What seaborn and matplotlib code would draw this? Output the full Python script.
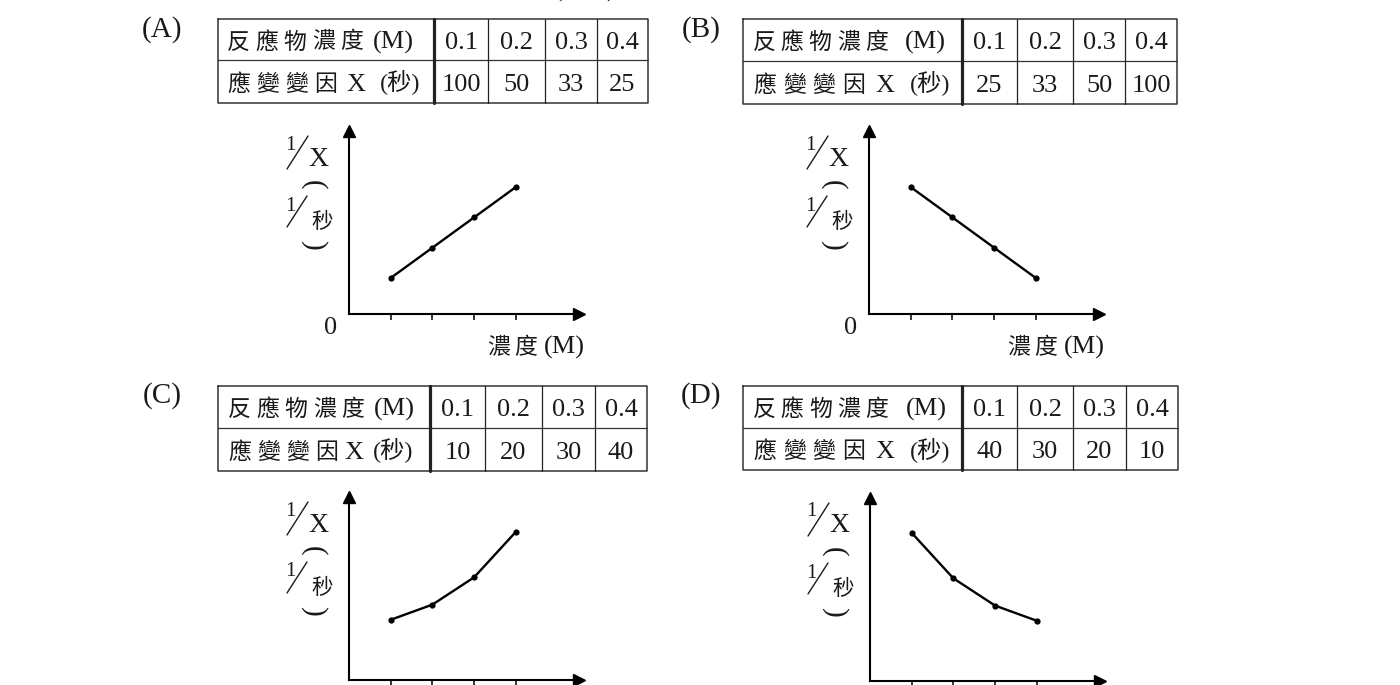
import numpy as np
import pandas as pd
import seaborn as sns
import matplotlib.pyplot as plt

W, H = 1400, 685

# data
conc = [0.1, 0.2, 0.3, 0.4]
conc_labels = ["0.1", "0.2", "0.3", "0.4"]
x_a = ["100", "50", "33", "25"]
x_b = ["25", "33", "50", "100"]
x_c = ["10", "20", "30", "40"]
x_d = ["40", "30", "20", "10"]
# plotted 1/X curves (arbitrary units)
curve_a = [1.0, 2.0, 3.0, 4.0]
curve_b = [4.0, 3.0, 2.0, 1.0]
curve_c = [1.8, 2.3, 3.2, 4.7]
curve_d = [4.7, 3.2, 2.3, 1.8]
panel_names = ["(A)", "(B)", "(C)", "(D)"]
head1 = ["反應物濃度(M)", "反應物濃度 (M)", "反應物濃度(M)", "反應物濃度 (M)"]
head2 = ["應變變因X (秒)", "應變變因X (秒)", "應變變因X(秒)", "應變變因X (秒)"]
xlabel = "濃度(M)"

sns.set_theme(style="white")
SERIF = "Liberation Serif"
CJK = "Noto Sans CJK TC"
plt.rcParams["font.family"] = [SERIF, CJK]
INK = "#1a1a1a"

fig = plt.figure(figsize=(14, 6.85), dpi=100)
ov = fig.add_axes([0, 0, 1, 1])
ov.set_xlim(0, W)
ov.set_ylim(H, 0)
ov.axis("off")

WEIGHTS = {"(": 0.45, ")": 0.45, "M": 1.0, "X": 0.85, " ": 0.3}


def is_cjk(ch):
    return ord(ch) > 0x2E80


def tokenize(text):
    # single CJK chars, bracket groups like (M) / (秒), and latin runs
    toks, i = [], 0
    while i < len(text):
        ch = text[i]
        if ch == "(":
            j = text.index(")", i)
            toks.append(text[i:j + 1])
            i = j + 1
        elif is_cjk(ch):
            toks.append(ch)
            i += 1
        else:
            j = i
            while j < len(text) and not is_cjk(text[j]) and text[j] != "(":
                j += 1
            toks.append(text[i:j])
            i = j
    return toks


def spread(text, xl, xr, y):
    toks = tokenize(text)
    w = [sum(WEIGHTS.get(c, 1.0) for c in t) for t in toks]
    unit = (xr - xl) / sum(w)
    x = xl
    for t, wi in zip(toks, w):
        if t.strip():
            if len(t) == 1 and is_cjk(t):
                ov.text(x + wi * unit / 2, y, t, ha="center", va="baseline",
                        fontsize=16.5, family=CJK, color=INK)
            else:
                mixed = any(is_cjk(c) for c in t)
                ov.text(x + wi * unit / 2, y, t.strip(), ha="center",
                        va="baseline", fontsize=17.5 if mixed else 19,
                        family=[SERIF, CJK], color=INK)
        x += wi * unit


def draw_table(cols, rows, h1, h2, vals, span1, span2):
    x0, x1 = cols[0], cols[-1]
    y0, y2 = rows[0], rows[-1]
    ov.plot([x0, x1, x1, x0, x0], [y0, y0, y2, y2, y0], color="#333", lw=1.1)
    ov.plot([x0, x1], [rows[1], rows[1]], color="#333", lw=0.9)
    for i, cx in enumerate(cols[1:-1]):
        ov.plot([cx, cx], [y0, y2], color="#222", lw=2.3 if i == 0 else 0.9)
    r1 = (rows[0] + rows[1]) / 2 + 9
    r2 = (rows[1] + rows[2]) / 2 + 9
    spread(h1, span1[0], span1[1], r1)
    spread(h2, span2[0], span2[1], r2)
    for i in range(4):
        cx = (cols[i + 1] + cols[i + 2]) / 2
        ov.text(cx, r1, conc_labels[i], ha="center", va="baseline", fontsize=19,
                family=SERIF, color=INK)
        ov.text(cx, r2, vals[i], ha="center", va="baseline", fontsize=19,
                family=SERIF, color=INK)


AX_W, AX_H = 230, 183
PX_X, PX_Y, OFF = 417.0, 30.3, 5.7


def draw_plot(ox, oy, vals, lower):
    ax = fig.add_axes([ox / W, (H - oy) / H, AX_W / W, AX_H / H])
    ax.set_facecolor("none")
    df = pd.DataFrame({"conc": conc, "inv": vals})
    sns.lineplot(data=df, x="conc", y="inv", ax=ax, color="black", lw=1.7,
                 marker="o", ms=4.5, mec="black", mew=0)
    ax.set_xlim(0, AX_W / PX_X)
    ax.set_ylim(-OFF / PX_Y, (AX_H - OFF) / PX_Y)
    sns.despine(ax=ax)
    for s in ("left", "bottom"):
        ax.spines[s].set_linewidth(1.5)
        ax.spines[s].set_color("black")
    ax.plot(1, 0, ">", color="black", ms=9, transform=ax.transAxes, clip_on=False)
    ax.plot(0, 1, "^", color="black", ms=9, transform=ax.transAxes, clip_on=False)
    ax.set_xticks(conc)
    ax.set_xticklabels([])
    ax.set_yticks([])
    ax.tick_params(axis="x", bottom=True, direction="out", length=4, width=1.1,
                   color="black")
    ax.set_xlabel("")
    ax.set_ylabel("")

    # vertical 1/X (1/秒) label
    t = oy - 189
    ov.text(ox - 59, t + 20, "1", fontsize=15, ha="center", va="center",
            family=SERIF, color=INK)
    ov.plot([ox - 62, ox - 41], [t + 44, t + 11], color=INK, lw=1.0)
    ov.text(ox - 31, t + 34, "X", fontsize=20, ha="center", va="center",
            family=SERIF, color=INK)
    ov.text(ox - 36, t + 60, "(", fontsize=21, rotation=-90, ha="center",
            va="center", family=SERIF, color=INK)
    ov.text(ox - 59, t + 81, "1", fontsize=15, ha="center", va="center",
            family=SERIF, color=INK)
    ov.plot([ox - 62, ox - 42], [t + 102, t + 71], color=INK, lw=1.0)
    ov.text(ox - 27, t + 97, "秒", fontsize=15.5, ha="center", va="center",
            family=CJK, color=INK)
    ov.text(ox - 36, t + 121, ")", fontsize=21, rotation=-90, ha="center",
            va="center", family=SERIF, color=INK)

    # the lower sketches are cut by the frame before their axis labels
    if not lower:
        ov.text(ox - 18, oy + 14, "0", fontsize=19, ha="center", va="center",
                family=SERIF, color=INK)
        spread(xlabel, ox + 136, ox + 241, oy + 40)
    return ax


tables = [
    ([218, 434, 488, 545, 597, 648], [19, 60, 103], x_a, (224, 420), (224, 428)),
    ([743, 962, 1017, 1073, 1125, 1177], [19, 61, 104], x_b, (750, 952), (750, 958)),
    ([218, 430, 485, 542, 595, 647], [386, 428, 471], x_c, (225, 421), (225, 421)),
    ([743, 962, 1017, 1073, 1126, 1178], [386, 428, 470], x_d, (750, 953), (750, 958)),
]
origins = [(349, 314), (869, 314), (349, 680), (870, 681)]
curves = [curve_a, curve_b, curve_c, curve_d]
label_pos = [(162, 30), (701, 30), (162, 396), (701, 396)]

for i in range(4):
    cols, rows, vals, s1, s2 = tables[i]
    draw_table(cols, rows, head1[i], head2[i], vals, s1, s2)
    draw_plot(origins[i][0], origins[i][1], curves[i], lower=i >= 2)
    ov.text(label_pos[i][0], label_pos[i][1], panel_names[i], fontsize=21,
            ha="center", va="center", family=SERIF, color=INK)

# bottom of the answer blank from the question line above, cut by the frame
ov.text(558, -3, "(", fontsize=18, ha="center", va="baseline", family=SERIF, color=INK)
ov.text(610, -3, ")", fontsize=18, ha="center", va="baseline", family=SERIF, color=INK)

fig.savefig("out.png", dpi=100, facecolor="white")
